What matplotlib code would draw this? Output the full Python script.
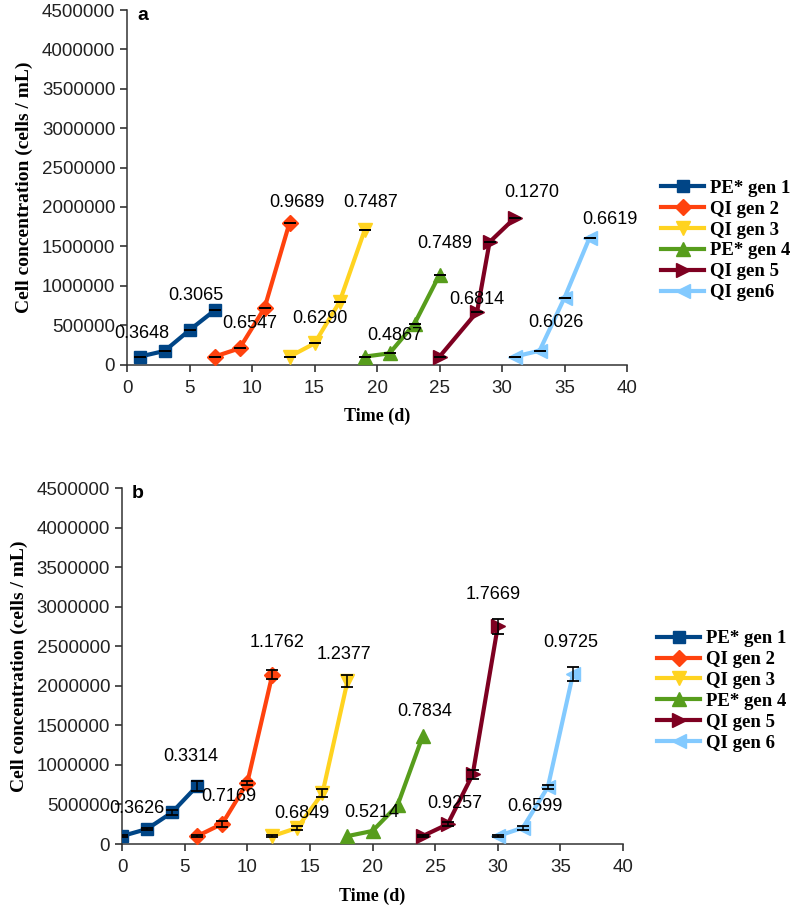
import matplotlib
matplotlib.use("Agg")
import matplotlib.pyplot as plt

COLORS = ["#004586", "#ff420e", "#ffd320", "#579d1c", "#7e0021", "#83caff"]
MARKERS = ["s", "D", "v", "^", ">", "<"]
MSIZES = [9, 8, 10, 10, 10, 10]

labels_a = ["PE* gen 1", "QI gen 2", "QI gen 3", "PE* gen 4", "QI gen 5", "QI gen6"]
labels_b = ["PE* gen 1", "QI gen 2", "QI gen 3", "PE* gen 4", "QI gen 5", "QI gen 6"]

# panel a - days and cell counts per generation
a_days = [
    [1, 3, 5, 7],
    [7, 9, 11, 13],
    [13, 15, 17, 19],
    [19, 21, 23, 25],
    [25, 28, 29, 31],
    [31, 33, 35, 37],
]
a_cells = [
    [100000, 172000, 437000, 686000],
    [100000, 205000, 719000, 1800000],
    [100000, 268000, 795000, 1702000],
    [100000, 142000, 520000, 1140000],
    [100000, 668000, 1555000, 1858000],
    [100000, 175000, 850000, 1610000],
]

# panel b
b_days = [
    [0, 2, 4, 6],
    [6, 8, 10, 12],
    [12, 14, 16, 18],
    [18, 20, 22, 24],
    [24, 26, 28, 30],
    [30, 32, 34, 36],
]
b_cells = [
    [100000, 190000, 400000, 735000],
    [100000, 255000, 775000, 2140000],
    [100000, 205000, 640000, 2058000],
    [100000, 165000, 490000, 1360000],
    [100000, 250000, 880000, 2750000],
    [100000, 205000, 720000, 2145000],
]
b_err = [
    [10000, 15000, 30000, 65000],
    [10000, 40000, 25000, 60000],
    [10000, 25000, 50000, 75000],
    None,
    [10000, 25000, 60000, 100000],
    [10000, 25000, 30000, 90000],
]

# growth rate labels (text, x, y)
rates_a = ["0.3648", "0.3065", "0.6547", "0.9689", "0.6290", "0.7487",
           "0.4867", "0.7489", "0.6814", "0.1270", "0.6026", "0.6619"]
rates_a_x = [1.2, 5.5, 9.8, 13.6, 15.4, 19.5, 21.4, 25.4, 28.0, 32.4, 34.3, 38.6]
rates_a_y = [395000, 880000, 521000, 2060000, 585000, 2060000,
             373000, 1541000, 829000, 2187000, 529000, 1842000]

rates_b = ["0.3626", "0.3314", "0.7169", "1.1762", "0.6849", "1.2377",
           "0.5214", "0.7834", "0.9257", "1.7669", "0.6599", "0.9725"]
rates_b_x = [1.2, 5.5, 8.5, 12.35, 14.35, 17.7, 19.9, 24.2, 26.6, 29.6, 33.0, 35.8]
rates_b_y = [447000, 1110000, 595000, 2553000, 390000, 2396000,
             400000, 1677000, 511000, 3158000, 476000, 2553000]

SANS = "Liberation Sans"
SERIF = "Liberation Serif"
plt.rcParams["font.family"] = SANS


def draw_panel(ax, days, cells, errs, labels, rates, rx, ry, letter, leg_y):
    for i in range(len(days)):
        ax.plot(days[i], cells[i], color=COLORS[i], marker=MARKERS[i],
                markersize=MSIZES[i], linewidth=3, label=labels[i], zorder=3)
        e = errs[i] if errs is not None else [0] * len(days[i])
        if e is None:
            continue
        ax.errorbar(days[i], cells[i], yerr=e, fmt="none", ecolor="black",
                    elinewidth=1.1, capsize=4, capthick=1.3, zorder=4)
    for t, x, y in zip(rates, rx, ry):
        ax.text(x, y, t, ha="center", va="center", fontsize=13, zorder=5)

    ax.set_xlim(0, 40)
    ax.set_ylim(0, 4500000)
    ax.set_xticks(range(0, 41, 5))
    ax.set_yticks(range(0, 4500001, 500000))
    ax.set_yticklabels([str(v) for v in range(0, 4500001, 500000)])
    ax.tick_params(labelsize=13.5, colors="#222222", length=5, width=1.1)
    ax.tick_params(axis="x", pad=6)
    ax.spines["top"].set_visible(False)
    ax.spines["right"].set_visible(False)
    for s in ("left", "bottom"):
        ax.spines[s].set_color("#333333")
        ax.spines[s].set_linewidth(1.1)
    ax.set_xlabel("Time (d)", family=SERIF, fontweight="bold", fontsize=13, labelpad=8)
    ax.set_ylabel("Cell concentration (cells / mL)", family=SERIF,
                  fontweight="bold", fontsize=14, labelpad=6)
    ax.text(0.02, 0.985, letter, transform=ax.transAxes, fontsize=14,
            fontweight="bold", va="center", ha="left")
    leg = ax.legend(loc="center left", bbox_to_anchor=(1.068, leg_y), frameon=False,
                    prop={"family": SERIF, "weight": "bold", "size": 13.5},
                    handlelength=2.3, handletextpad=0.3, labelspacing=0.2,
                    borderaxespad=0, borderpad=0)
    return leg


fig = plt.figure(figsize=(7.97, 9.17), dpi=100)
ax_a = fig.add_axes([0.1594, 0.6025, 0.6274, 0.3865])
ax_b = fig.add_axes([0.1531, 0.0796, 0.6286, 0.3882])

draw_panel(ax_a, a_days, a_cells, None, labels_a, rates_a, rates_a_x, rates_a_y, "a", 0.35)
draw_panel(ax_b, b_days, b_cells, b_err, labels_b, rates_b, rates_b_x, rates_b_y, "b", 0.43)

fig.savefig("out.png", dpi=100)
